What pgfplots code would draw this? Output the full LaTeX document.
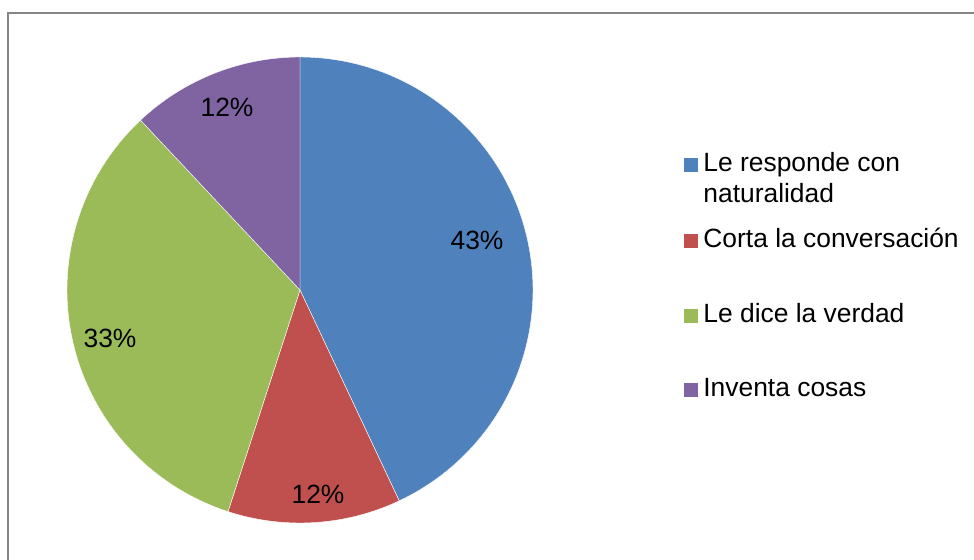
\documentclass[border=0pt]{standalone}
\usepackage{pgfplots}
\pgfplotsset{compat=1.18}
\usepackage{pgfplotstable}
\usepackage{fontspec}
\setmainfont{Liberation Sans}
\definecolor{cA}{HTML}{4F81BD}
\definecolor{cB}{HTML}{C0504D}
\definecolor{cC}{HTML}{9BBB59}
\definecolor{cD}{HTML}{8064A2}
\definecolor{frame}{HTML}{868686}
\pgfplotstableread{
label value
A 43
B 12
C 33
D 12
}\piedata
\pgfplotstablegetelem{0}{value}\of\piedata \edef\vA{\pgfplotsretval}%
\pgfplotstablegetelem{1}{value}\of\piedata \edef\vB{\pgfplotsretval}%
\pgfplotstablegetelem{2}{value}\of\piedata \edef\vC{\pgfplotsretval}%
\pgfplotstablegetelem{3}{value}\of\piedata \edef\vD{\pgfplotsretval}%
\pgfmathsetmacro{\tot}{\vA+\vB+\vC+\vD}%
\pgfmathsetmacro{\aA}{360*\vA/\tot}%
\pgfmathsetmacro{\aB}{\aA+360*\vB/\tot}%
\pgfmathsetmacro{\aC}{\aB+360*\vC/\tot}%
\pgfmathsetmacro{\aD}{360}%
\begin{document}%
\begin{tikzpicture}[font=\fontsize{13.2}{15.8}\selectfont]
\begin{axis}[
  scale only axis, width=487pt, height=280pt,
  xmin=0, xmax=974, ymin=0, ymax=560, y dir=reverse,
  hide axis, clip=false, anchor=south west, at={(0,0)},
]
\addplot[fill=cA, draw=white, line width=0.2pt, domain=0:\aA, samples=90, variable=\t]
  ({300+233*sin(t)}, {290-233*cos(t)}) -- (300,290) -- cycle;
\addplot[fill=cB, draw=white, line width=0.2pt, domain=\aA:\aB, samples=40, variable=\t]
  ({300+233*sin(t)}, {290-233*cos(t)}) -- (300,290) -- cycle;
\addplot[fill=cC, draw=white, line width=0.2pt, domain=\aB:\aC, samples=80, variable=\t]
  ({300+233*sin(t)}, {290-233*cos(t)}) -- (300,290) -- cycle;
\addplot[fill=cD, draw=white, line width=0.2pt, domain=\aC:\aD, samples=40, variable=\t]
  ({300+233*sin(t)}, {290-233*cos(t)}) -- (300,290) -- cycle;
% percentage labels
\node[anchor=center, inner sep=0pt] at (477,240) {43\%};
\node[anchor=center, inner sep=0pt] at (318,494) {12\%};
\node[anchor=center, inner sep=0pt] at (110,338) {33\%};
\node[anchor=center, inner sep=0pt] at (227,107) {12\%};
% frame
\draw[frame, line width=1pt] (8,600) -- (8,13) -- (1000,13);
% legend
\fill[cA] (684,158) rectangle (698,172);
\node[anchor=base west, inner sep=0pt] at (703,172) {Le responde con};
\node[anchor=base west, inner sep=0pt] at (703,203) {naturalidad};
\fill[cB] (684,234) rectangle (698,248);
\node[anchor=base west, inner sep=0pt] at (703,248) {Corta la conversación};
\fill[cC] (684,309) rectangle (698,323);
\node[anchor=base west, inner sep=0pt] at (703,323) {Le dice la verdad};
\fill[cD] (684,383) rectangle (698,397);
\node[anchor=base west, inner sep=0pt] at (703,397) {Inventa cosas};
\end{axis}
\pgfresetboundingbox
\path (0,0) rectangle (487pt,280pt);
\end{tikzpicture}%
\end{document}
